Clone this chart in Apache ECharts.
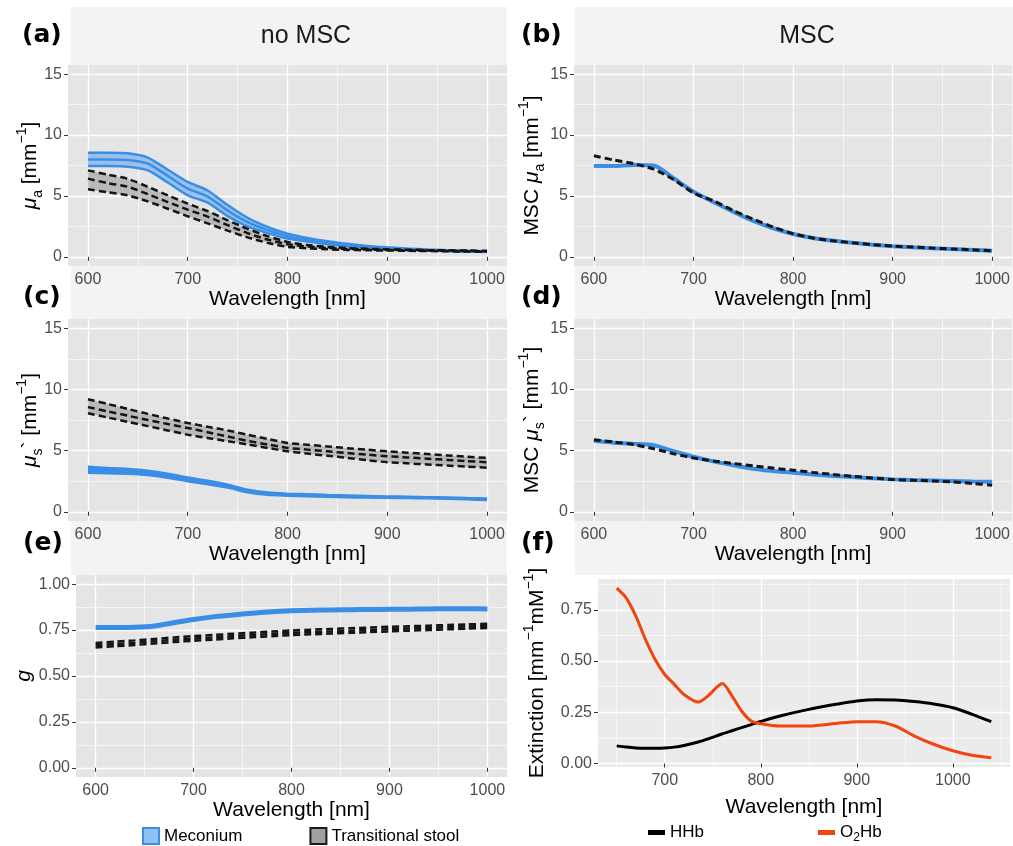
<!DOCTYPE html>
<html>
<head>
<meta charset="utf-8">
<script src="https://cdn.jsdelivr.net/npm/echarts@6/dist/echarts.min.js"></script>
<style>html,body{margin:0;padding:0;background:#fff;}#c{width:1013px;height:846px;}</style>
</head>
<body>
<div id="c"></div>
<script>
// ---------- data ----------
const WL = [600,620,640,660,680,700,720,740,760,780,800,820,840,860,880,900,920,940,960,980,1000];

// (a) mu_a, no MSC
const A_MEC_UP  = [8.55,8.55,8.5,8.15,7.15,6.15,5.45,4.25,3.2,2.45,1.9,1.55,1.28,1.07,0.9,0.78,0.69,0.61,0.55,0.5,0.46];
const A_MEC_MID = [8.0,8.0,7.95,7.65,6.65,5.6,4.95,3.8,2.85,2.2,1.7,1.4,1.16,0.97,0.82,0.71,0.63,0.56,0.51,0.46,0.42];
const A_MEC_LO  = [7.45,7.45,7.4,7.1,6.1,5.05,4.45,3.35,2.5,1.95,1.5,1.25,1.04,0.88,0.75,0.65,0.58,0.52,0.47,0.43,0.39];
const A_TS_UP   = [7.1,6.75,6.4,5.75,5.05,4.37,3.75,3.0,2.3,1.7,1.23,0.98,0.82,0.72,0.66,0.62,0.59,0.56,0.54,0.52,0.5];
const A_TS_MID  = [6.42,6.05,5.75,5.15,4.5,3.88,3.3,2.6,1.95,1.42,1.04,0.85,0.73,0.65,0.6,0.57,0.54,0.52,0.5,0.48,0.46];
const A_TS_LO   = [5.55,5.3,5.05,4.55,3.95,3.33,2.75,2.15,1.6,1.15,0.82,0.7,0.62,0.57,0.54,0.52,0.5,0.48,0.46,0.44,0.42];

// (b) MSC mu_a
const B_MEC = [7.45,7.45,7.55,7.5,6.45,5.35,4.5,3.7,2.95,2.35,1.88,1.55,1.32,1.15,1.0,0.88,0.79,0.71,0.64,0.57,0.5];
const B_TS  = [8.3,7.95,7.65,7.2,6.35,5.25,4.6,3.8,3.1,2.45,1.9,1.55,1.32,1.15,1.0,0.88,0.8,0.72,0.65,0.58,0.5];

// (c) mu_s', no MSC
const C_TS_UP  = [9.2,8.8,8.4,8.0,7.62,7.26,6.95,6.65,6.3,5.95,5.63,5.48,5.34,5.2,5.07,4.95,4.83,4.72,4.61,4.5,4.4];
const C_TS_MID = [8.55,8.2,7.85,7.5,7.17,6.85,6.5,6.15,5.8,5.5,5.22,5.08,4.94,4.8,4.67,4.54,4.44,4.34,4.24,4.14,4.05];
const C_TS_LO  = [8.05,7.7,7.35,7.0,6.65,6.3,6.03,5.77,5.5,5.22,4.95,4.76,4.58,4.4,4.22,4.05,3.96,3.87,3.78,3.69,3.6];
const C_MEC_UP  = [3.68,3.58,3.5,3.36,3.12,2.8,2.54,2.22,1.8,1.57,1.48,1.43,1.38,1.34,1.3,1.26,1.23,1.2,1.17,1.12,1.08];
const C_MEC_MID = [3.45,3.37,3.3,3.18,2.95,2.65,2.4,2.1,1.7,1.48,1.4,1.35,1.31,1.27,1.23,1.2,1.18,1.15,1.12,1.07,1.02];
const C_MEC_LO  = [3.2,3.16,3.1,3.0,2.78,2.5,2.26,1.98,1.6,1.39,1.32,1.27,1.24,1.2,1.16,1.14,1.12,1.1,1.07,1.02,0.96];

// (d) MSC mu_s'
const D_TS  = [5.88,5.7,5.5,5.15,4.75,4.4,4.15,3.95,3.75,3.57,3.4,3.22,3.05,2.9,2.77,2.64,2.58,2.52,2.44,2.32,2.17];
const D_MEC = [5.8,5.65,5.55,5.45,4.95,4.5,4.12,3.8,3.52,3.33,3.2,3.05,2.93,2.84,2.74,2.65,2.6,2.56,2.52,2.48,2.45];

// (e) g
const E_MEC    = [0.764,0.764,0.765,0.772,0.79,0.808,0.822,0.832,0.842,0.85,0.855,0.858,0.86,0.861,0.862,0.863,0.864,0.865,0.866,0.866,0.865];
const E_TS_UP  = [0.68,0.687,0.694,0.702,0.71,0.717,0.723,0.73,0.736,0.742,0.748,0.752,0.756,0.76,0.764,0.768,0.771,0.774,0.778,0.781,0.784];
const E_TS_MID = [0.667,0.674,0.681,0.689,0.697,0.704,0.71,0.717,0.723,0.729,0.735,0.739,0.743,0.747,0.751,0.755,0.759,0.762,0.766,0.77,0.773];
const E_TS_LO  = [0.655,0.662,0.669,0.677,0.685,0.692,0.698,0.705,0.711,0.717,0.723,0.727,0.731,0.735,0.739,0.743,0.747,0.75,0.754,0.758,0.762];

// (f) extinction
const WL_F = [650,660,670,680,690,700,710,720,735,745,760,770,780,790,800,820,850,880,900,920,940,960,980,1000,1020,1040];
const HHB  = [0.086,0.08,0.076,0.075,0.075,0.076,0.08,0.088,0.105,0.12,0.145,0.16,0.175,0.19,0.205,0.232,0.264,0.29,0.305,0.311,0.31,0.302,0.29,0.272,0.24,0.204];
const O2HB = [0.855,0.807,0.718,0.604,0.507,0.434,0.386,0.337,0.30,0.33,0.39,0.33,0.256,0.207,0.194,0.183,0.183,0.196,0.204,0.204,0.183,0.134,0.094,0.062,0.04,0.028];

// ticks
const X_TICKS = [600,700,800,900,1000];
const MU_TICKS = [0,5,10,15];
const G_TICKS = [0,0.25,0.5,0.75,1];
const F_X_TICKS = [700,800,900,1000];
const F_Y_TICKS = [0,0.25,0.5,0.75];

// ---------- styling ----------
const FF = 'Liberation Sans, Arial, sans-serif';
const BLUE = '#3a8ee6';
const BLUE_FILL = 'rgba(90,162,240,0.55)';
const BLACK = '#141414';
const GREY_FILL = 'rgba(120,120,120,0.40)';
const ORANGE = '#f0450e';
const DASH = [7,4];

function pts(xs, ys){ return xs.map((x,i)=>[x, ys[i]]); }

function line(g, name, xs, ys, color, width, dash, z){
  return {type:'line', name:name, xAxisIndex:g, yAxisIndex:g, data:pts(xs,ys),
    showSymbol:false, symbol:'none', smooth:0.25, silent:true, z:z||3,
    lineStyle:{color:color, width:width, type:dash||'solid'}, itemStyle:{color:color}};
}
function ribbon(g, xs, lo, up, color){
  return {type:'custom', xAxisIndex:g, yAxisIndex:g, silent:true, z:2,
    data: xs.map((x,i)=>[x, lo[i], up[i]]), encode:{x:0, y:[1,2]},
    renderItem:function(params, api){
      if (params.dataIndexInside !== 0) return null;
      const n = params.dataInsideLength, top=[], bot=[];
      for (let i=0;i<n;i++){
        top.push(api.coord([api.value(0,i), api.value(2,i)]));
        bot.push(api.coord([api.value(0,i), api.value(1,i)]));
      }
      return {type:'polygon', shape:{points: top.concat(bot.reverse())}, style:{fill:color}};
    }};
}

function xAx(g, min, max, step, ticks, gap){
  return {type:'value', gridIndex:g, min:min, max:max, minInterval:step, maxInterval:step,
    axisLine:{show:false},
    axisTick:{show:true, length:4, lineStyle:{color:'#333', width:1}, customValues:ticks},
    axisLabel:{customValues:ticks, color:'#4d4d4d', fontSize:16, margin:6, fontFamily:FF,
      formatter:function(v){ return String(v); }},
    splitLine:{show:true, lineStyle:{color:'#ffffff', width:1.3}},
    minorTick:{show:false, splitNumber:2},
    minorSplitLine:{show:true, lineStyle:{color:'#ffffff', width:0.6}},
    name:'Wavelength [nm]', nameLocation:'middle', nameGap:gap,
    nameTextStyle:{color:'#000', fontSize:21, fontFamily:FF}};
}
function yAx(g, min, max, step, ticks, fmt){
  return {type:'value', gridIndex:g, min:min, max:max, minInterval:step, maxInterval:step,
    axisLine:{show:false},
    axisTick:{show:true, length:4, lineStyle:{color:'#333', width:1}, customValues:ticks},
    axisLabel:{customValues:ticks, color:'#4d4d4d', fontSize:16, margin:6, fontFamily:FF,
      formatter: fmt || function(v){ return String(v); }},
    splitLine:{show:true, lineStyle:{color:'#ffffff', width:1.3}},
    minorTick:{show:false, splitNumber:2},
    minorSplitLine:{show:true, lineStyle:{color:'#ffffff', width:0.6}}};
}
const f2 = v => v.toFixed(2);

const PANEL = '#e5e5e5';
const grids = [
  {left:68,  top:65,  width:439, height:201},
  {left:574, top:65,  width:439, height:201},
  {left:68,  top:319, width:439, height:202},
  {left:574, top:319, width:439, height:202},
  {left:76,  top:575, width:431, height:202},
  {left:598, top:579, width:412, height:188}
].map((g,i)=>Object.assign({show:true, backgroundColor: i===5 ? '#ebebeb' : PANEL, borderWidth:0, containLabel:false}, g));

const xAxes = [
  xAx(0,580,1020,100,X_TICKS,21), xAx(1,580,1020,100,X_TICKS,21),
  xAx(2,580,1020,100,X_TICKS,22), xAx(3,580,1020,100,X_TICKS,22),
  xAx(4,580,1020,100,X_TICKS,20), xAx(5,630.5,1059.5,100,F_X_TICKS,30)
];
const yAxes = [
  yAx(0,-0.75,15.75,5,MU_TICKS), yAx(1,-0.75,15.75,5,MU_TICKS),
  yAx(2,-0.75,15.75,5,MU_TICKS), yAx(3,-0.75,15.75,5,MU_TICKS),
  yAx(4,-0.05,1.05,0.25,G_TICKS,f2), yAx(5,-0.017,0.9,0.25,F_Y_TICKS,f2)
];

const series = [
  // (a)
  ribbon(0, WL, A_MEC_LO, A_MEC_UP, BLUE_FILL),
  line(0,'Meconium',WL,A_MEC_UP,BLUE,2.5), line(0,'Meconium',WL,A_MEC_MID,BLUE,2.5), line(0,'Meconium',WL,A_MEC_LO,BLUE,2.5),
  ribbon(0, WL, A_TS_LO, A_TS_UP, GREY_FILL),
  line(0,'Transitional stool',WL,A_TS_UP,BLACK,2.5,DASH,4), line(0,'Transitional stool',WL,A_TS_MID,BLACK,2.5,DASH,4), line(0,'Transitional stool',WL,A_TS_LO,BLACK,2.5,DASH,4),
  // (b)
  line(1,'Meconium',WL,B_MEC,BLUE,4), line(1,'Transitional stool',WL,B_TS,BLACK,3,DASH,4),
  // (c)
  ribbon(2, WL, C_TS_LO, C_TS_UP, GREY_FILL),
  line(2,'Transitional stool',WL,C_TS_UP,BLACK,2.5,DASH,4), line(2,'Transitional stool',WL,C_TS_MID,BLACK,2.5,DASH,4), line(2,'Transitional stool',WL,C_TS_LO,BLACK,2.5,DASH,4),
  ribbon(2, WL, C_MEC_LO, C_MEC_UP, BLUE),
  line(2,'Meconium',WL,C_MEC_UP,BLUE,2.5), line(2,'Meconium',WL,C_MEC_MID,BLUE,2.5), line(2,'Meconium',WL,C_MEC_LO,BLUE,2.5),
  // (d)
  line(3,'Meconium',WL,D_MEC,BLUE,4), line(3,'Transitional stool',WL,D_TS,BLACK,3,DASH,4),
  // (e)
  line(4,'Meconium',WL,E_MEC,BLUE,5),
  line(4,'Transitional stool',WL,E_TS_UP,BLACK,2.5,DASH,4), line(4,'Transitional stool',WL,E_TS_MID,BLACK,2.5,DASH,4), line(4,'Transitional stool',WL,E_TS_LO,BLACK,2.5,DASH,4),
  // (f)
  line(5,'HHb',WL_F,HHB,'#000000',3), line(5,'O2Hb',WL_F,O2HB,ORANGE,3)
];

// rich text for rotated axis titles
const RICH = {
  n:{fontSize:21, fontFamily:FF, fill:'#000', lineHeight:30},
  i:{fontSize:21, fontFamily:FF, fontStyle:'italic', fill:'#000', lineHeight:30},
  sub:{fontSize:14, fontFamily:FF, fill:'#000', lineHeight:14, verticalAlign:'bottom'},
  sup:{fontSize:14, fontFamily:FF, fill:'#000', lineHeight:14, verticalAlign:'top'}
};
function vtitle(x, y, text){
  return {type:'text', x:x, y:y, rotation:Math.PI/2, z:10, silent:true,
    style:{text:text, rich:RICH, align:'center', verticalAlign:'middle', fill:'#000', fontSize:21, fontFamily:FF}};
}
function letter(x, y, t){
  return {type:'text', x:x, y:y, z:10, silent:true,
    style:{text:t, fontSize:25, fontWeight:'bold', fontFamily:'DejaVu Sans, sans-serif', fill:'#000', align:'left', verticalAlign:'middle'}};
}
function strip(x, y, t){
  return {type:'text', x:x, y:y, z:10, silent:true,
    style:{text:t, fontSize:25, fontFamily:FF, fill:'#1a1a1a', align:'center', verticalAlign:'middle'}};
}

const graphic = [
  {type:'rect', z:-5, silent:true, shape:{x:71, y:7, width:436, height:568}, style:{fill:'#f3f3f3'}},
  {type:'rect', z:-5, silent:true, shape:{x:575, y:7, width:438, height:568}, style:{fill:'#f3f3f3'}},
  strip(306, 36, 'no MSC'), strip(807, 36, 'MSC'),
  letter(22, 35, '(a)'), letter(521, 35, '(b)'),
  letter(23, 297, '(c)'), letter(521, 297, '(d)'),
  letter(23, 543, '(e)'), letter(521, 543, '(f)'),
  vtitle(30, 165.5, '{i|μ}{sub|a}{n| [mm}{sup|−1}{n|]}'),
  vtitle(532, 165.5, '{n|MSC }{i|μ}{sub|a}{n| [mm}{sup|−1}{n|]}'),
  vtitle(30, 420, '{i|μ}{sub|s}{n|` [mm}{sup|−1}{n|]}'),
  vtitle(532, 420, '{n|MSC }{i|μ}{sub|s}{n|` [mm}{sup|−1}{n|]}'),
  vtitle(24, 676, '{i|g}'),
  vtitle(537, 673, '{n|Extinction [mm}{sup|−1}{n|mM}{sup|−1}{n|]}')
];

const legends = [
  {left:142, top:827, padding:0, itemWidth:16, itemHeight:16, itemGap:67, selectedMode:false,
   data:[
     {name:'Meconium', icon:'rect', itemStyle:{color:'#8fc2f2', borderColor:BLUE, borderWidth:2}},
     {name:'Transitional stool', icon:'rect', itemStyle:{color:'#a0a0a0', borderColor:'#1a1a1a', borderWidth:2}}
   ],
   textStyle:{fontSize:17, color:'#000', fontFamily:FF}},
  {left:648, top:824, padding:0, itemWidth:17, itemHeight:5, itemGap:114, selectedMode:false,
   data:[
     {name:'HHb', icon:'rect', itemStyle:{color:'#000', borderWidth:0}},
     {name:'O2Hb', icon:'rect', itemStyle:{color:ORANGE, borderWidth:0}}
   ],
   formatter:function(name){ return name === 'O2Hb' ? '{n|O}{s|2}{n|Hb}' : '{n|' + name + '}'; },
   textStyle:{fontSize:17, color:'#000', fontFamily:FF,
     rich:{n:{fontSize:17, color:'#000', fontFamily:FF, lineHeight:22},
           s:{fontSize:12, color:'#000', fontFamily:FF, lineHeight:12, verticalAlign:'bottom'}}}}
];

const chart = echarts.init(document.getElementById('c'), null, {renderer:'canvas'});
chart.setOption({
  backgroundColor:'#ffffff',
  animation:false,
  grid:grids, xAxis:xAxes, yAxis:yAxes, series:series,
  legend:legends, graphic:graphic
});
</script>
</body>
</html>
